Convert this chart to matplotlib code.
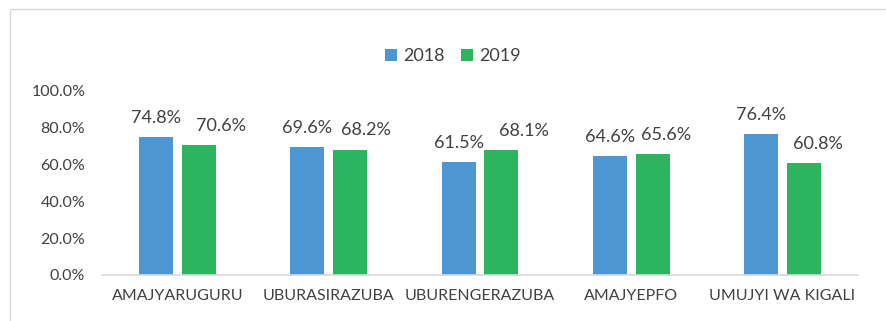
import matplotlib.pyplot as plt
from matplotlib.patches import Rectangle
import numpy as np

regions = ['AMAJYARUGURU', 'UBURASIRAZUBA', 'UBURENGERAZUBA', 'AMAJYEPFO', 'UMUJYI WA KIGALI']
rate_2018 = [74.8, 69.6, 61.5, 64.6, 76.4]
rate_2019 = [70.6, 68.2, 68.1, 65.6, 60.8]
years = ['2018', '2019']
yticks = [0, 20, 40, 60, 80, 100]

BLUE = '#4E96D2'
GREEN = '#2CB45F'
TEXT = '#404040'
GRID = '#D9D9D9'

# the 2019 labels sit a little to the right of their bars (points)
nudge_2019 = [16, 11, 16, 10, 10]

plt.rcParams['font.family'] = ['Lato', 'DejaVu Sans']

fig = plt.figure(figsize=(8.86, 3.21), dpi=100)
fig.patches.append(Rectangle((10 / 886, -0.1), 1.0, 1 - 9 / 321 + 0.1,
                             transform=fig.transFigure, fill=False,
                             edgecolor=GRID, linewidth=1.0))

ax = fig.add_axes([102 / 886, 1 - 275 / 321, 756 / 886, 184 / 321])

x = np.arange(len(regions))
width = 0.225
offset = 0.142
bars1 = ax.bar(x - offset, rate_2018, width, color=BLUE, label=years[0])
bars2 = ax.bar(x + offset, rate_2019, width, color=GREEN, label=years[1])

for bars, vals, nudges in ((bars1, rate_2018, [0] * len(regions)),
                           (bars2, rate_2019, nudge_2019)):
    for b, v, dx in zip(bars, vals, nudges):
        ax.annotate(f'{v:.1f}%', (b.get_x() + b.get_width() / 2, v),
                    xytext=(dx, 8), textcoords='offset points',
                    ha='center', va='bottom', fontsize=13, color=TEXT)

ax.set_xlim(-0.5, len(regions) - 0.5)
ax.set_ylim(0, 100)
ax.set_xticks(x)
ax.set_xticklabels(regions)
ax.set_yticks(yticks)
ax.set_yticklabels([f'{t:.1f}%' for t in yticks])
ax.tick_params(axis='both', length=0, labelsize=11.5, colors=TEXT)
ax.tick_params(axis='y', pad=12)
ax.tick_params(axis='x', pad=10)

for s in ('top', 'right', 'left'):
    ax.spines[s].set_visible(False)
ax.spines['bottom'].set_color(GRID)
ax.spines['bottom'].set_linewidth(1.2)

fig.legend(loc='center', bbox_to_anchor=(453 / 886, 1 - 56 / 321), ncol=2,
           frameon=False, fontsize=13, handlelength=0.65, handleheight=0.65,
           handletextpad=0.35, columnspacing=0.9, labelcolor=TEXT)

fig.savefig('out.png', dpi=100)
